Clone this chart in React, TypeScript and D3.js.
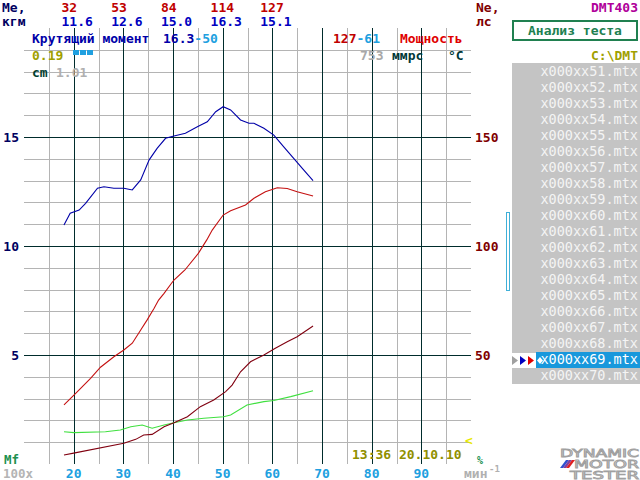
import React from "react";
import * as d3 from "d3";

// ---- data (rpm in hundreds) ----
const torqueRpm = [18.05, 19.3, 21.1, 22.4, 24.8, 26.1, 28.1, 30.1, 31.8, 33.5, 35.2, 36.8, 38.5, 40.2, 42.5, 44.9, 46.9, 48.6, 50.1, 51.6, 53.6, 55.3, 56.3, 58.3, 60.3, 62.3, 64.3, 66.3, 68.2];
const torqueVal = [10.96, 11.5, 11.65, 11.96, 12.65, 12.72, 12.65, 12.65, 12.57, 13.03, 13.95, 14.48, 14.94, 15.05, 15.17, 15.47, 15.7, 16.16, 16.39, 16.24, 15.78, 15.63, 15.63, 15.4, 15.09, 14.55, 14.02, 13.49, 13.0];

const powerRpm = [18.05, 20.1, 23.4, 25.4, 28.1, 30.1, 31.8, 33.5, 34.8, 36.2, 37.1, 38.2, 39.7, 40.2, 42.4, 45.1, 46.8, 47.9, 50.1, 51.6, 54.6, 56.3, 58.6, 61.0, 63.0, 65.0, 68.2];
const powerVal = [27.1, 31.7, 39.3, 44.4, 49.2, 52.3, 55.4, 61.5, 66.1, 71.4, 75.2, 78.3, 82.9, 84.4, 89.0, 96.6, 102.8, 107.3, 114.2, 116.2, 118.8, 121.9, 124.9, 126.7, 126.4, 124.9, 122.9];

const maroonRpm = [18.05, 20.0, 30.1, 32.5, 34.1, 35.8, 38.2, 40.2, 42.9, 45.5, 48.2, 50.6, 51.9, 53.6, 55.6, 58.3, 60.6, 63.0, 65.0, 68.2];
const maroonVal = [4.1, 5.0, 9.5, 11.3, 13.3, 13.6, 17.1, 18.9, 21.7, 26.3, 29.4, 33.2, 36.2, 42.3, 46.9, 50.0, 53.1, 56.1, 58.4, 63.3];

const greenRpm = [18.05, 20.06, 26.4, 29.4, 31.5, 33.8, 35.8, 38.2, 40.2, 42.9, 46.2, 50.2, 51.6, 54.9, 58.3, 60.3, 63.7, 68.2];
const greenVal = [14.8, 14.4, 14.8, 15.6, 17.1, 17.9, 16.4, 17.9, 18.9, 20.2, 21.0, 21.7, 22.5, 27.1, 28.6, 29.1, 30.9, 33.6];

const headerPower = ["32", "53", "84", "114", "127"];
const headerTorque = ["11.6", "12.6", "15.0", "16.3", "15.1"];
const xTicks = [20, 30, 40, 50, 60, 70, 80, 90];
const leftTicks = [5, 10, 15];
const rightTicks = [50, 100, 150];
const files = Array.from({ length: 20 }, (_, i) => `x000xx${51 + i}.mtx`);
const selectedIndex = 18;
const logoLines = ["DYNAMIC", "MOTOR", "TESTER"];

const FONT = "'DejaVu Sans Mono', monospace";

export default function App() {
  const x = d3.scaleLinear().domain([10, 100]).range([24, 471]);
  const yT = d3.scaleLinear().domain([0, 20]).range([464, 28]);
  const yP = d3.scaleLinear().domain([0, 200]).range([464, 28]);

  const mk = (rpm: number[], val: number[], ys: d3.ScaleLinear<number, number>) =>
    d3.line<number>().x((_, i) => x(rpm[i])).y((v) => ys(v))(val) || "";

  const vGrid = d3.range(15, 100, 5);
  const hGrid = d3.range(1, 20, 1);

  const t = (props: any, txt: any) => (
    <text fontFamily={FONT} fontWeight="bold" fontSize={13} {...props}>{txt}</text>
  );

  const logoX = [560, 574, 570];
  const logoW = [79, 65, 69];
  const logoY = [456.5, 467.5, 478.5];

  return (
    <svg width={640} height={480} style={{ position: "absolute", left: 0, top: 0, background: "#fff" }}>
      <rect x={0} y={0} width={640} height={480} fill="#fff" />
      {/* grid */}
      <g shapeRendering="crispEdges">
        {hGrid.filter((v) => v % 5 !== 0).map((v) => (
          <line key={"h" + v} x1={24} x2={471} y1={Math.round(yT(v)) + 0.5} y2={Math.round(yT(v)) + 0.5} stroke="#b4b4b4" />
        ))}
        {vGrid.filter((v) => v % 10 !== 0).map((v) => (
          <line key={"v" + v} x1={Math.round(x(v)) + 0.5} x2={Math.round(x(v)) + 0.5} y1={28} y2={464} stroke="#b4b4b4" />
        ))}
        {hGrid.filter((v) => v % 5 === 0).map((v) => (
          <line key={"hd" + v} x1={24} x2={471} y1={Math.round(yT(v)) + 0.5} y2={Math.round(yT(v)) + 0.5} stroke="#002c2c" />
        ))}
        {vGrid.filter((v) => v % 10 === 0).map((v) => (
          <line key={"vd" + v} x1={Math.round(x(v)) + 0.5} x2={Math.round(x(v)) + 0.5} y1={28} y2={464} stroke="#002c2c" />
        ))}
      </g>

      {/* curves */}
      <path d={mk(greenRpm, greenVal, yP)} fill="none" stroke="#40e040" strokeWidth={1.1} />
      <path d={mk(maroonRpm, maroonVal, yP)} fill="none" stroke="#800010" strokeWidth={1.1} />
      <path d={mk(powerRpm, powerVal, yP)} fill="none" stroke="#c41010" strokeWidth={1.1} />
      <path d={mk(torqueRpm, torqueVal, yT)} fill="none" stroke="#0000a8" strokeWidth={1.1} />

      {/* axis labels */}
      {leftTicks.map((v) => t({ key: "l" + v, x: 19, y: yT(v) + 4.5, textAnchor: "end", fill: "#000060" }, v))}
      {rightTicks.map((v) => t({ key: "r" + v, x: 475, y: yP(v) + 4.5, fill: "#800000" }, v))}
      {xTicks.map((v) => t({ key: "x" + v, x: x(v), y: 478, textAnchor: "middle", fill: "#20a0e0" }, v))}

      {/* header */}
      {t({ x: 2, y: 12, fill: "#000060" }, "Me,")}
      {t({ x: 2, y: 26, fill: "#000060" }, "кгм")}
      {headerPower.map((s, i) => t({ key: "hp" + i, x: 61.5 + 49.7 * i, y: 12, fill: "#c00000" }, s))}
      {headerTorque.map((s, i) => t({ key: "ht" + i, x: 61.5 + 49.7 * i, y: 26, fill: "#0000c0" }, s))}
      {t({ x: 476, y: 12, fill: "#800000" }, "Ne,")}
      {t({ x: 476, y: 26, fill: "#800000" }, "лс")}

      {t({ x: 32, y: 43, fill: "#0000a8" }, "Крутящий момент")}
      {t({ x: 163, y: 43, fill: "#0000a8" }, <>16.3<tspan fill="#20a0e0">-50</tspan></>)}
      {t({ x: 333, y: 43, fill: "#c00000" }, <>127<tspan fill="#20a0e0">-61</tspan></>)}
      {t({ x: 400, y: 43, fill: "#e00000" }, "Мощность")}

      {t({ x: 32, y: 60, fill: "#a0a000" }, "0.19")}
      {[73, 80, 87].map((xx) => (
        <rect key={"sq" + xx} x={xx} y={50} width={6} height={5} fill="#20a0e0" />
      ))}
      {t({ x: 360, y: 60, fill: "#a8a8a8" }, "753")}
      {t({ x: 392, y: 60, fill: "#003838" }, "ммрс")}
      {t({ x: 448, y: 60, fill: "#003838" }, "°C")}
      {t({ x: 32, y: 77, fill: "#004030" }, "cm")}
      {t({ x: 56, y: 77, fill: "#b0b0b0" }, "1.01")}

      {/* bottom */}
      {t({ x: 4, y: 464, fill: "#209050", fontSize: 12.5 }, "Mf")}
      {t({ x: 3, y: 478, fill: "#b4b4b4", fontSize: 12.5 }, "100x")}
      {t({ x: 352, y: 459, fill: "#909000" }, "13:36 20.10.10")}
      {t({ x: 465, y: 445, fill: "#e8e800" }, "<")}
      {t({ x: 477, y: 464, fill: "#209050", fontSize: 10 }, "%")}
      {t({ x: 464, y: 478, fill: "#b0b0b0" }, "мин")}
      {t({ x: 489, y: 472, fill: "#b0b0b0", fontSize: 9 }, "-1")}

      {/* right panel */}
      {t({ x: 638, y: 12, textAnchor: "end", fill: "#b0009a" }, "DMT403")}
      <rect x={513} y={21} width={124} height={19} fill="#fff" stroke="#208050" strokeWidth={2} />
      {t({ x: 575, y: 35, textAnchor: "middle", fill: "#208050" }, "Анализ  теста")}
      {t({ x: 638, y: 60, textAnchor: "end", fill: "#a0a000" }, "C:\\DMT")}

      <rect x={512} y={63} width={128} height={290} fill="#c4c4c4" />
      <rect x={512} y={368} width={128} height={16} fill="#c4c4c4" />
      <rect x={536} y={352} width={104} height={16} fill="#1898dc" />
      <path d="M512,356 L518,360.5 L512,365 Z" fill="#a0a0a0" />
      <path d="M520,356 L526,360.5 L520,365 Z" fill="#0000c0" />
      <path d="M528,356 L534,360.5 L528,365 Z" fill="#e00000" />
      <path d="M540,357 L543,360.5 L540,364 L537,360.5 Z" fill="#fff" />
      {files.map((f, i) =>
        t({ key: f, x: 638, y: 76 + 16 * i, textAnchor: "end", fill: i === selectedIndex ? "#ffffff" : "#f4f4f4", fontWeight: "normal", fontSize: 13.5 }, f)
      )}
      <rect x={506.5} y={212.5} width={3} height={78} fill="#fff" stroke="#40b0d8" strokeWidth={1} />

      {/* logo */}
      <g fontFamily="'DejaVu Sans', sans-serif" fill="#f4f4f4" stroke="#a0a0a0" strokeWidth={0.8} fontSize={10.5}>
        {logoLines.map((s, i) => (
          <text key={s} x={logoX[i]} y={logoY[i]} textLength={logoW[i]} lengthAdjust="spacingAndGlyphs">{s}</text>
        ))}
      </g>
      <path d="M560,468 L566,460 L569,460 L563,468 Z" fill="#3050d0" />
      <path d="M563,468 L569,460 L572,460 L566,468 Z" fill="#8040a0" />
      <path d="M566,468 L572,460 L575,460 L569,468 Z" fill="#e02020" />
    </svg>
  );
}
